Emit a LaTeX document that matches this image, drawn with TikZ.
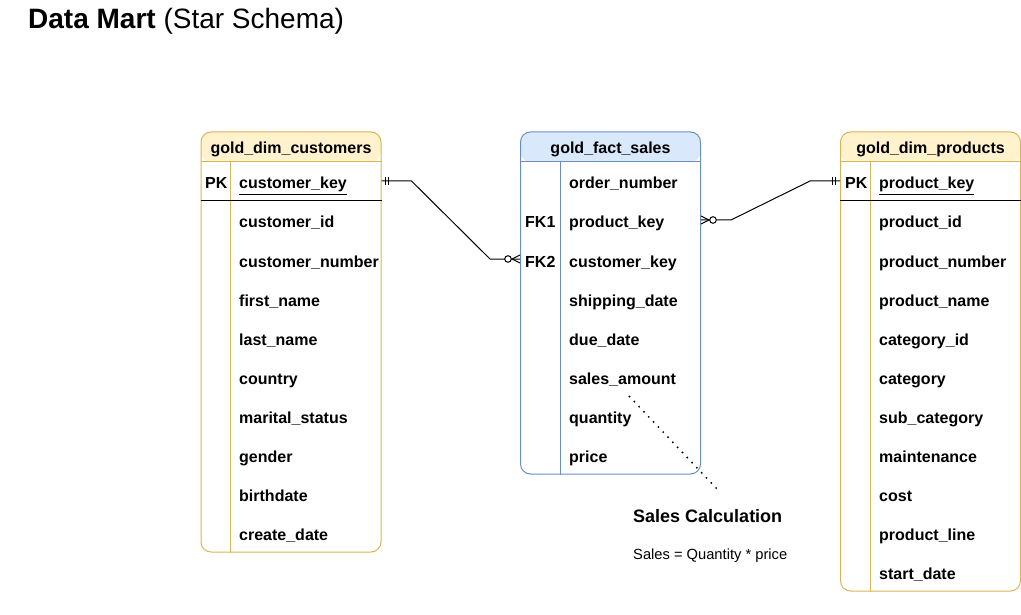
\documentclass[tikz,border=0pt]{standalone}
\usepackage{fontspec}
\setmainfont{Liberation Sans}
\definecolor{dimfill}{HTML}{FFF2CC}
\definecolor{dimline}{HTML}{D6B656}
\definecolor{factfill}{HTML}{DAE8FC}
\definecolor{factline}{HTML}{6C8EBF}
\tikzset{
  field/.style={anchor=base west, inner sep=0pt, font=\fontsize{16}{19}\selectfont\bfseries},
  header/.style={anchor=base, inner sep=0pt, font=\fontsize{16}{19}\selectfont\bfseries},
  dimtable/.style={draw=dimline, line width=1pt, rounded corners=10pt, minimum width=180pt, inner sep=0pt,
    path picture={\fill[dimfill] (path picture bounding box.north west) rectangle ([yshift=-30pt]path picture bounding box.north east);}},
  facttable/.style={draw=factline, line width=1pt, rounded corners=10pt, minimum width=180pt, inner sep=0pt,
    path picture={\fill[factfill] (path picture bounding box.north west) rectangle ([yshift=-30pt]path picture bounding box.north east);}},
  rel/.style={line width=1pt, black},
}
\begin{document}
\begin{tikzpicture}[x=1pt, y=-1pt]
    \useasboundingbox (0,0) rectangle (1021,615);
    \node[anchor=base west, inner sep=0pt, font=\fontsize{28}{32}\selectfont] (title) at (28,29) {\textbf{Data Mart} (Star Schema)};

    % tables
    \node[dimtable, minimum height=420pt] (customers) at (291,342) {};
    \node[facttable, minimum height=342pt] (sales) at (610.5,303) {};
    \node[dimtable, minimum height=459pt] (products) at (930.5,361.5) {};

    \draw[dimline, line width=1pt] ([yshift=-30pt]customers.north west) -- ([yshift=-30pt]customers.north east);
    \draw[dimline, line width=1pt] ([shift={(30pt,-30pt)}]customers.north west) -- ([xshift=30pt]customers.south west);
    \draw[black, line width=1pt] ([yshift=-69pt]customers.north west) -- ([yshift=-69pt]customers.north east);
    \draw[factline, line width=1pt] ([yshift=-30pt]sales.north west) -- ([yshift=-30pt]sales.north east);
    \draw[factline, line width=1pt] ([shift={(40pt,-30pt)}]sales.north west) -- ([xshift=40pt]sales.south west);
    \draw[dimline, line width=1pt] ([yshift=-30pt]products.north west) -- ([yshift=-30pt]products.north east);
    \draw[dimline, line width=1pt] ([shift={(30pt,-30pt)}]products.north west) -- ([xshift=30pt]products.south west);
    \draw[black, line width=1pt] ([yshift=-69pt]products.north west) -- ([yshift=-69pt]products.north east);

    % gold_dim_customers
    \node[header] (cust-head) at (291,154) {gold\_dim\_customers};
    \node[field] (cust-pk) at (205,189) {PK};
    \node[field] (cust-key) at (239,189) {\underline{customer\_key}};
    \node[field] (cust-id) at (239,228) {customer\_id};
    \node[field] (cust-number) at (239,267) {customer\_number};
    \node[field] (cust-first) at (239,306) {first\_name};
    \node[field] (cust-last) at (239,345) {last\_name};
    \node[field] (cust-country) at (239,384) {country};
    \node[field] (cust-marital) at (239,423) {marital\_status};
    \node[field] (cust-gender) at (239,462) {gender};
    \node[field] (cust-birth) at (239,501) {birthdate};
    \node[field] (cust-create) at (239,540) {create\_date};

    % gold_fact_sales
    \node[header] (sales-head) at (610.5,154) {gold\_fact\_sales};
    \node[field] (sales-order) at (569,189) {order\_number};
    \node[field] (sales-fk1) at (525,228) {FK1};
    \node[field] (sales-product) at (569,228) {product\_key};
    \node[field] (sales-fk2) at (525,267) {FK2};
    \node[field] (sales-customer) at (569,267) {customer\_key};
    \node[field] (sales-ship) at (569,306) {shipping\_date};
    \node[field] (sales-due) at (569,345) {due\_date};
    \node[field] (sales-amount) at (569,384) {sales\_amount};
    \node[field] (sales-qty) at (569,423) {quantity};
    \node[field] (sales-price) at (569,462) {price};

    % gold_dim_products
    \node[header] (prod-head) at (930.5,154) {gold\_dim\_products};
    \node[field] (prod-pk) at (845,189) {PK};
    \node[field] (prod-key) at (879,189) {\underline{product\_key}};
    \node[field] (prod-id) at (879,228) {product\_id};
    \node[field] (prod-number) at (879,267) {product\_number};
    \node[field] (prod-name) at (879,306) {product\_name};
    \node[field] (prod-catid) at (879,345) {category\_id};
    \node[field] (prod-cat) at (879,384) {category};
    \node[field] (prod-subcat) at (879,423) {sub\_category};
    \node[field] (prod-maint) at (879,462) {maintenance};
    \node[field] (prod-cost) at (879,501) {cost};
    \node[field] (prod-line) at (879,540) {product\_line};
    \node[field] (prod-start) at (879,579) {start\_date};

    % relations
    \draw[rel] ([yshift=-49.5pt]customers.north east) coordinate (cust-end) -- ++(30,0)
        -- ([xshift=-30pt,yshift=-127.5pt]sales.north west) -- ([yshift=-127.5pt]sales.north west) coordinate (sales-end2);
    \draw[rel] ([xshift=4pt]cust-end) ++(0,-4) -- ++(0,8);
    \draw[rel] ([xshift=7pt]cust-end) ++(0,-4) -- ++(0,8);
    \draw[rel] ([xshift=-8pt]sales-end2) -- ++(8,-4) ([xshift=-8pt]sales-end2) -- ++(8,4);
    \draw[rel, fill=white] ([xshift=-12pt]sales-end2) circle (3.3pt);

    \draw[rel] ([yshift=-88.5pt]sales.north east) coordinate (sales-end1) -- ++(30,0)
        -- ([xshift=-30pt,yshift=-49.5pt]products.north west) -- ([yshift=-49.5pt]products.north west) coordinate (prod-end);
    \draw[rel] ([xshift=-8pt]prod-end) ++(0,-4) -- ++(0,8);
    \draw[rel] ([xshift=-5pt]prod-end) ++(0,-4) -- ++(0,8);
    \draw[rel] ([xshift=8pt]sales-end1) -- ++(-8,-4) ([xshift=8pt]sales-end1) -- ++(-8,4);
    \draw[rel, fill=white] ([xshift=12pt]sales-end1) circle (3.3pt);

    % note
    \coordinate (note-a) at (629,396);
    \coordinate (note-b) at (718,490);
    \draw[line width=1.5pt, dash pattern=on 1.5pt off 5.5pt] (note-a) -- (note-b);
    \node[anchor=base west, inner sep=0pt, font=\fontsize{18}{21}\selectfont\bfseries] (calc-title) at (633,522) {Sales Calculation};
    \node[anchor=base west, inner sep=0pt, font=\fontsize{14.7}{17}\selectfont] (calc-text) at (633,559) {Sales = Quantity * price};
\end{tikzpicture}
\end{document}
